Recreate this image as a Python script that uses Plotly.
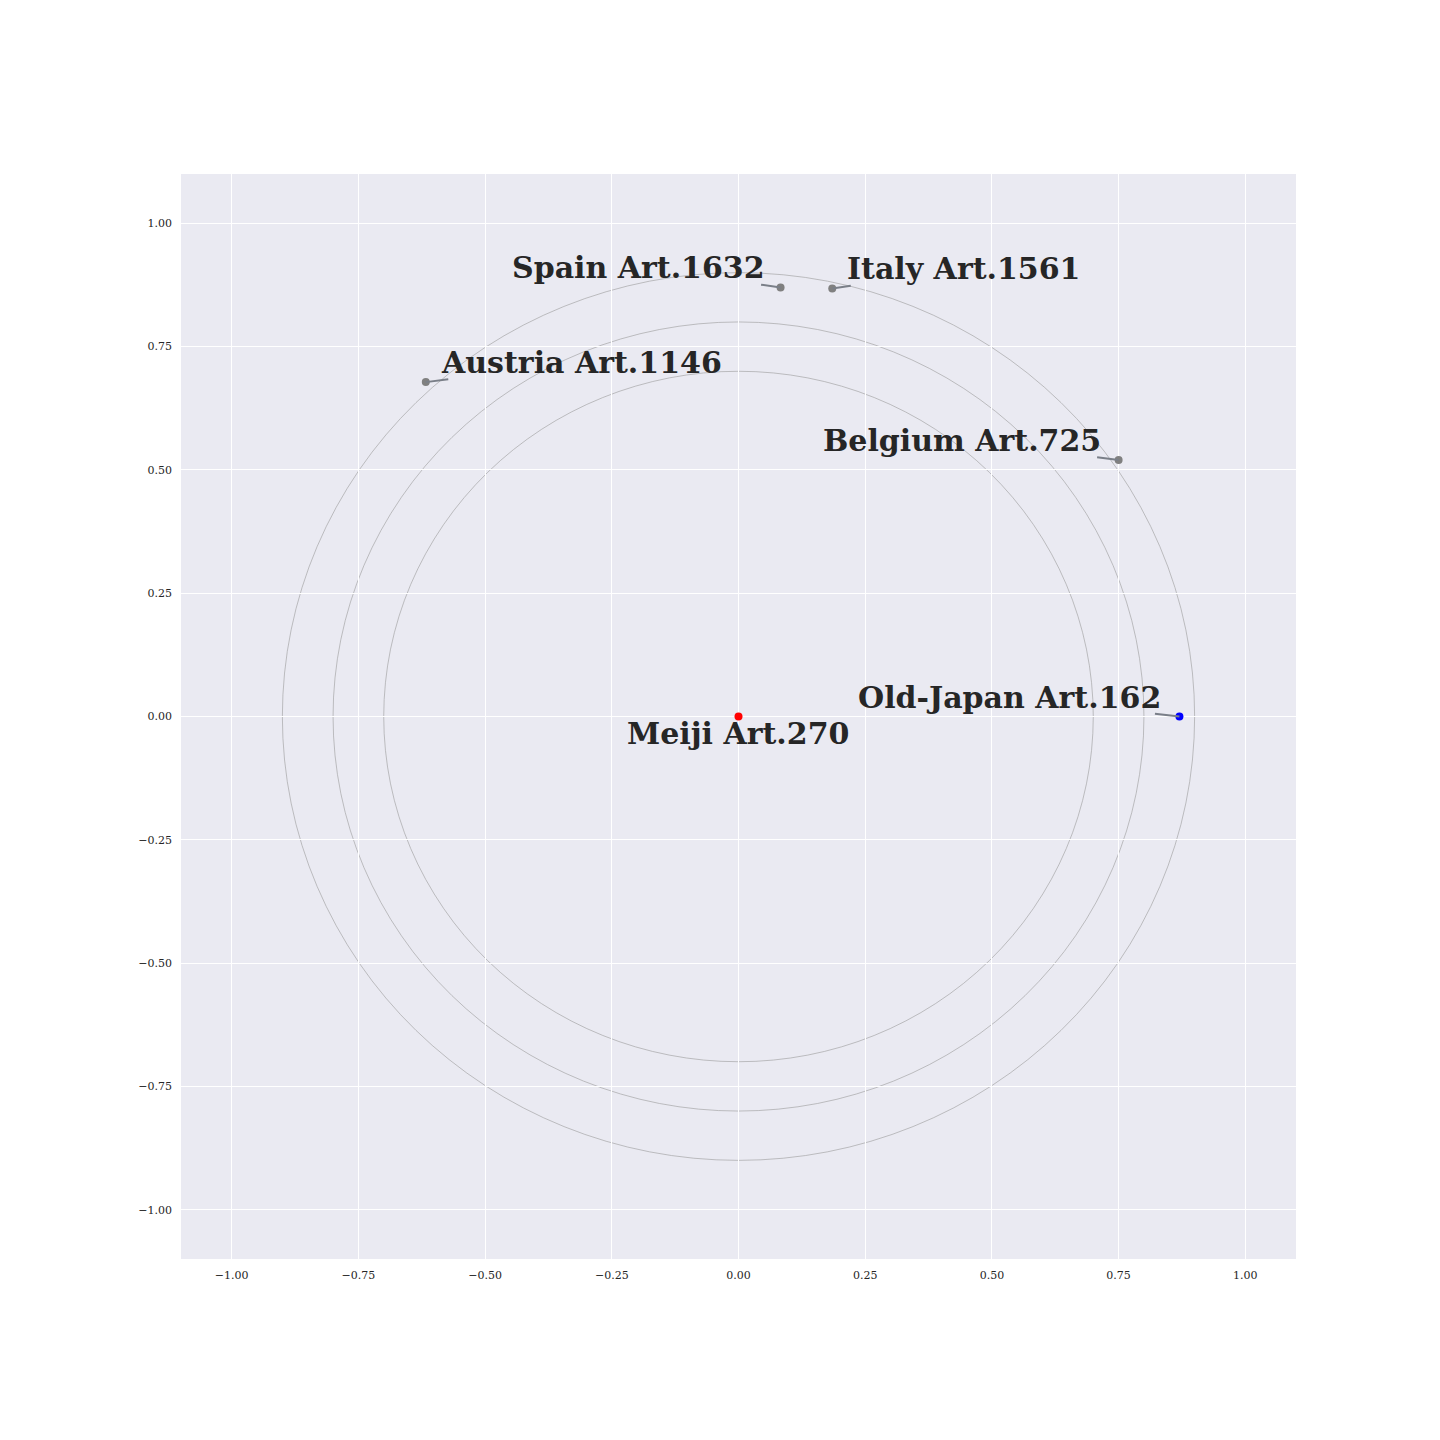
import plotly.graph_objects as go

names = ["Meiji Art.270", "Old-Japan Art.162", "Belgium Art.725", "Austria Art.1146",
         "Spain Art.1632", "Italy Art.1561"]
xs = [0.0, 0.87, 0.75, -0.617, 0.083, 0.185]
ys = [0.0, 0.0, 0.52, 0.678, 0.870, 0.868]
colors = ["red", "blue", "gray", "gray", "gray", "gray"]
radii = [0.9, 0.8, 0.7]
ticks = [-1.0, -0.75, -0.5, -0.25, 0.0, 0.25, 0.5, 0.75, 1.0]

# label placement (pixel offsets from point): xshift, yshift, xanchor, arrow tail ax, ay
label_style = [
    (-1, -17, "center", None, None),
    (-16, 19, "right", -26, -3),
    (-16, 20, "right", -23, -3),
    (13, 20, "left", 24, -3),
    (-14, 20, "right", -21, -3),
    (13, 20, "left", 20, -3),
]

fig = go.Figure()
for r in radii:
    fig.add_shape(type="circle", xref="x", yref="y", x0=-r, y0=-r, x1=r, y1=r,
                  line=dict(color="#9a9a9a", width=0.6), layer="below")

fig.add_trace(go.Scatter(x=xs, y=ys, mode="markers",
                         marker=dict(color=colors, size=8), showlegend=False,
                         hoverinfo="text", text=names))

for n, x, y, (xs_, ys_, xa, ax, ay) in zip(names, xs, ys, label_style):
    if ax is not None:
        fig.add_annotation(x=x, y=y, xref="x", yref="y", text="", showarrow=True,
                           arrowhead=0, arrowwidth=2, arrowcolor="#7a7f88",
                           ax=ax, ay=ay, standoff=0)
    fig.add_annotation(x=x, y=y, xref="x", yref="y", text="<b>%s</b>" % n,
                       showarrow=False, xanchor=xa, yanchor="middle",
                       xshift=xs_, yshift=ys_,
                       font=dict(family="DejaVu Serif", size=30, color="#262626"))

axis_common = dict(range=[-1.1, 1.1], tickvals=ticks, tickformat=".2f",
                   showgrid=True, gridcolor="white", gridwidth=1,
                   zeroline=False, showline=False, ticks="",
                   tickfont=dict(family="DejaVu Serif", size=11, color="#262626"))
fig.update_xaxes(**axis_common, ticklabelstandoff=8)
fig.update_yaxes(**axis_common, ticklabelstandoff=8)

fig.update_layout(width=1440, height=1440,
                  margin=dict(l=173, r=152, t=166, b=189),
                  plot_bgcolor="#EAEAF2", paper_bgcolor="white",
                  showlegend=False)

fig.write_html("out.html")
